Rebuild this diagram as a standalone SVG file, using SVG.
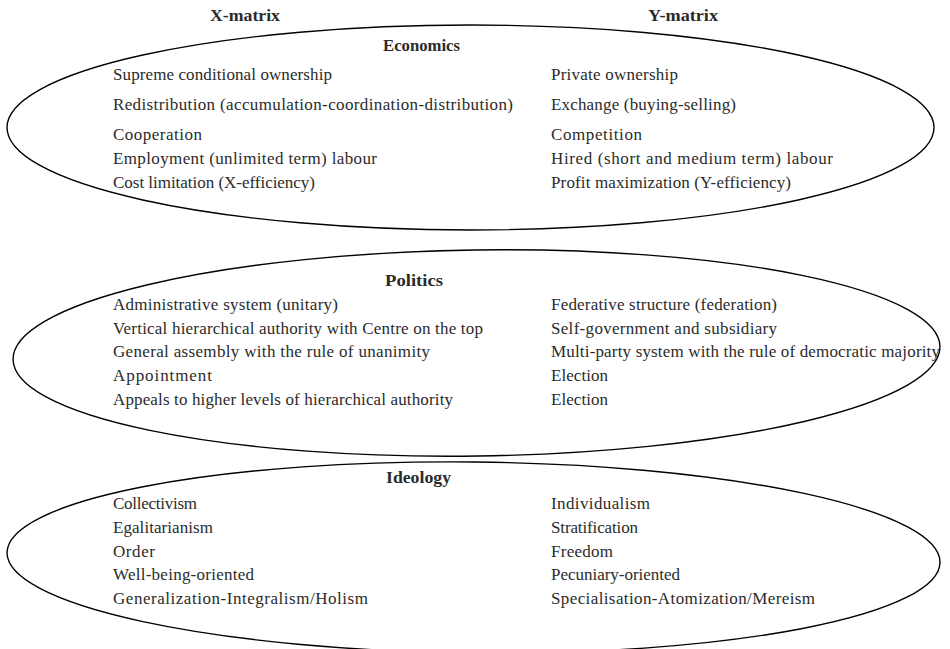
<svg xmlns="http://www.w3.org/2000/svg" width="950" height="649" viewBox="0 0 950 649">
<style>
  .shape { fill: none; stroke: #000; stroke-width: 1.4; }
  .t { font-family: "Liberation Serif", "Times New Roman", serif; font-size: 17px; fill: #2b2b2b; }
  .h { font-family: "Liberation Serif", "Times New Roman", serif; font-size: 16px; font-weight: bold; fill: #2b2b2b; text-anchor: middle; }
</style>
<rect width="950" height="649" fill="#fff"/>
<g id="headers">
  <text class="h" x="245" y="20.5" textLength="70" lengthAdjust="spacingAndGlyphs">X-matrix</text>
  <text class="h" x="683" y="20.5" textLength="70" lengthAdjust="spacingAndGlyphs">Y-matrix</text>
</g>
<g id="economics">
  <ellipse class="shape" cx="470.5" cy="127.5" rx="463.5" ry="102.5"/>
  <text class="h" x="421.5" y="51" textLength="77" lengthAdjust="spacingAndGlyphs">Economics</text>
  <text class="t" x="113" y="80" textLength="219">Supreme conditional ownership</text>
  <text class="t" x="113" y="110" textLength="400">Redistribution (accumulation-coordination-distribution)</text>
  <text class="t" x="113" y="140" textLength="89">Cooperation</text>
  <text class="t" x="113" y="164" textLength="264">Employment (unlimited term) labour</text>
  <text class="t" x="113" y="188" textLength="202">Cost limitation (X-efficiency)</text>
  <text class="t" x="551" y="80" textLength="127">Private ownership</text>
  <text class="t" x="551" y="110" textLength="185">Exchange (buying-selling)</text>
  <text class="t" x="551" y="140" textLength="91">Competition</text>
  <text class="t" x="551" y="164" textLength="282">Hired (short and medium term) labour</text>
  <text class="t" x="551" y="188" textLength="240">Profit maximization (Y-efficiency)</text>
</g>
<g id="politics">
  <ellipse class="shape" cx="476.5" cy="353" rx="463.5" ry="103" transform="rotate(-0.8 476.5 353)"/>
  <text class="h" x="414" y="286" textLength="58" lengthAdjust="spacingAndGlyphs">Politics</text>
  <text class="t" x="113" y="310" textLength="225">Administrative system (unitary)</text>
  <text class="t" x="113" y="334" textLength="370">Vertical hierarchical authority with Centre on the top</text>
  <text class="t" x="113" y="357" textLength="317">General assembly with the rule of unanimity</text>
  <text class="t" x="113" y="381" textLength="99">Appointment</text>
  <text class="t" x="113" y="405" textLength="340">Appeals to higher levels of hierarchical authority</text>
  <text class="t" x="551" y="310" textLength="226">Federative structure (federation)</text>
  <text class="t" x="551" y="334" textLength="226">Self-government and subsidiary</text>
  <text class="t" x="551" y="357" textLength="389">Multi-party system with the rule of democratic majority</text>
  <text class="t" x="551" y="381" textLength="57">Election</text>
  <text class="t" x="551" y="405" textLength="57">Election</text>
</g>
<g id="ideology">
  <ellipse class="shape" cx="473.5" cy="557.5" rx="466.5" ry="95.5" transform="rotate(0.6 473.5 557.5)"/>
  <text class="h" x="418.5" y="483" textLength="65" lengthAdjust="spacingAndGlyphs">Ideology</text>
  <text class="t" x="113" y="509" textLength="84">Collectivism</text>
  <text class="t" x="113" y="533" textLength="100">Egalitarianism</text>
  <text class="t" x="113" y="557" textLength="42">Order</text>
  <text class="t" x="113" y="580" textLength="141">Well-being-oriented</text>
  <text class="t" x="113" y="604" textLength="255">Generalization-Integralism/Holism</text>
  <text class="t" x="551" y="509" textLength="99">Individualism</text>
  <text class="t" x="551" y="533" textLength="87">Stratification</text>
  <text class="t" x="551" y="557" textLength="62">Freedom</text>
  <text class="t" x="551" y="580" textLength="129">Pecuniary-oriented</text>
  <text class="t" x="551" y="604" textLength="264">Specialisation-Atomization/Mereism</text>
</g>
</svg>
